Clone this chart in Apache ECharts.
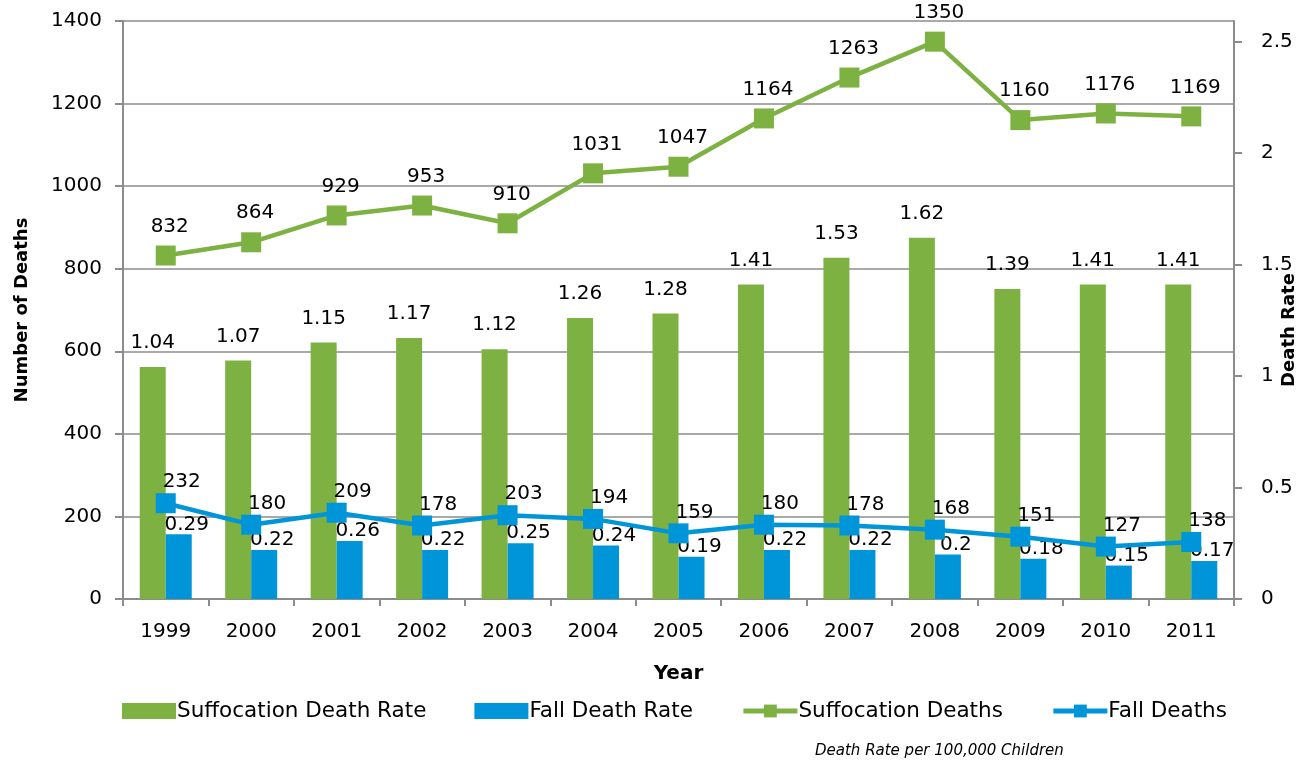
<!DOCTYPE html>
<html><head><meta charset="utf-8">
<script src="https://cdn.jsdelivr.net/npm/echarts@6/dist/echarts.min.js"></script>
<style>html,body{margin:0;padding:0;background:#fff}#c{width:1309px;height:764px}</style>
</head><body><div id="c"></div>
<script>
var years = ['1999','2000','2001','2002','2003','2004','2005','2006','2007','2008','2009','2010','2011'];
var suffocationRate = [1.04,1.07,1.15,1.17,1.12,1.26,1.28,1.41,1.53,1.62,1.39,1.41,1.41];
var fallRate = [0.29,0.22,0.26,0.22,0.25,0.24,0.19,0.22,0.22,0.2,0.18,0.15,0.17];
var suffocationDeaths = [832,864,929,953,910,1031,1047,1164,1263,1350,1160,1176,1169];
var fallDeaths = [232,180,209,178,203,194,159,180,178,168,151,127,138];
var leftTicks = [0,200,400,600,800,1000,1200,1400];
var rightTicks = [0,0.5,1,1.5,2,2.5];

var GREEN = '#7db243', BLUE = '#0095d9', AXIS = '#8c8c8c';
var FONT = 'DejaVu Sans';
var chart = echarts.init(document.getElementById('c'));
var lbl = {color:'#000', fontFamily:FONT, fontSize:20};
chart.setOption({
  animation:false,
  textStyle:{fontFamily:FONT},
  grid:{left:123, right:75, top:21, bottom:165, containLabel:false, outerBoundsMode:'none'},
  legend:{
    left:117, top:695, itemWidth:54, itemHeight:16, itemGap:48,
    textStyle:{fontFamily:FONT, fontSize:21.5, color:'#000', padding:[0,0,0,-4]},
    data:[{name:'Suffocation Death Rate', icon:'rect'},{name:'Fall Death Rate', icon:'rect'},
          {name:'Suffocation Deaths', lineStyle:{width:5}},{name:'Fall Deaths', lineStyle:{width:5}}]
  },
  xAxis:{
    type:'category', data:years,
    name:'Year', nameLocation:'middle', nameGap:65, nameMoveOverlap:false,
    nameTextStyle:{fontFamily:FONT, fontSize:20, fontWeight:'bold', color:'#000'},
    axisLine:{lineStyle:{color:AXIS, width:2}},
    axisTick:{show:true, length:7, lineStyle:{color:AXIS, width:2}},
    axisLabel:{fontFamily:FONT, fontSize:20, color:'#000', margin:23}
  },
  yAxis:[{
    type:'value', min:0, max:1400, interval:200,
    name:'Number of Deaths', nameLocation:'middle', nameGap:92, nameRotate:90, nameMoveOverlap:false,
    nameTextStyle:{fontFamily:FONT, fontSize:18, fontWeight:'bold', color:'#000'},
    axisLine:{show:true, lineStyle:{color:AXIS, width:2}},
    axisTick:{show:true, length:8, lineStyle:{color:AXIS, width:2}},
    axisLabel:{fontFamily:FONT, fontSize:20, color:'#000', margin:21, customValues:leftTicks,
      formatter:function(v){return String(v);}},
    splitLine:{show:true, lineStyle:{color:AXIS, width:1.5}}
  },{
    type:'value', min:0, max:2.592, interval:0.5, position:'right',
    name:'Death Rate', nameLocation:'middle', nameGap:46, nameRotate:90, nameMoveOverlap:false,
    nameTextStyle:{fontFamily:FONT, fontSize:18, fontWeight:'bold', color:'#000', padding:[0,0,0,-40]},
    axisLine:{show:true, lineStyle:{color:AXIS, width:2}},
    axisTick:{show:true, length:8, lineStyle:{color:AXIS, width:2}, customValues:rightTicks},
    axisLabel:{fontFamily:FONT, fontSize:20, color:'#000', margin:27, customValues:rightTicks,
      formatter:function(v){return String(v);}},
    splitLine:{show:false}
  }],
  series:[
    {name:'Suffocation Death Rate', type:'bar', yAxisIndex:1, data:suffocationRate, barWidth:26, barGap:'0%',
     itemStyle:{color:GREEN}, z:2,
     label:Object.assign({show:true, position:'top', distance:14}, lbl)},
    {name:'Fall Death Rate', type:'bar', yAxisIndex:1, data:fallRate, barWidth:26, barGap:'0%',
     itemStyle:{color:BLUE}, z:2,
     label:Object.assign({show:true, position:'top', distance:0, offset:[8,0]}, lbl)},
    {name:'Suffocation Deaths', type:'line', yAxisIndex:0, data:suffocationDeaths,
     symbol:'rect', symbolSize:20, lineStyle:{color:GREEN, width:4.5}, itemStyle:{color:GREEN}, z:5,
     label:Object.assign({show:true, position:'top', distance:9, offset:[4,0]}, lbl)},
    {name:'Fall Deaths', type:'line', yAxisIndex:0, data:fallDeaths,
     symbol:'rect', symbolSize:20, lineStyle:{color:BLUE, width:4.5}, itemStyle:{color:BLUE}, z:5,
     label:Object.assign({show:true, position:'top', distance:1, offset:[16,0]}, lbl)}
  ],
  graphic:[{type:'text', left:815, top:744,
    style:{text:'Death Rate per 100,000 Children', font:'italic 15px "DejaVu Sans"', fill:'#000'}}]
});
</script></body></html>
